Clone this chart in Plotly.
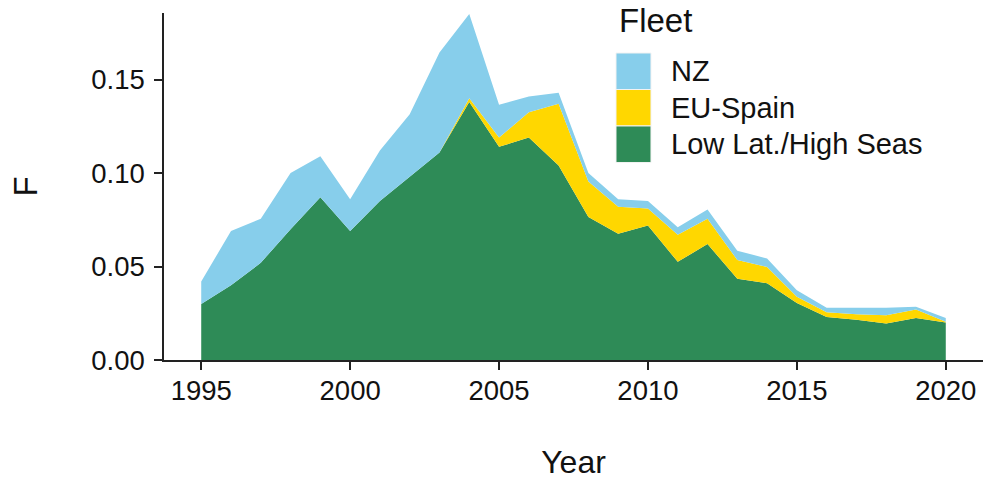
import plotly.graph_objects as go

# Fishing mortality (F) by fleet, 1995-2020
years = list(range(1995, 2021))

low_lat_high_seas = [0.030, 0.040, 0.052, 0.070, 0.087, 0.069, 0.085, 0.098, 0.111, 0.138,
                     0.114, 0.119, 0.104, 0.0765, 0.0675, 0.072, 0.0525, 0.062, 0.0435, 0.041,
                     0.0305, 0.023, 0.0215, 0.0195, 0.0225, 0.020]
eu_spain = [0.0, 0.0, 0.0, 0.0, 0.0, 0.0, 0.0, 0.0, 0.0, 0.002,
            0.005, 0.0135, 0.033, 0.019, 0.0145, 0.009, 0.0145, 0.0135, 0.010, 0.0088,
            0.0033, 0.0025, 0.003, 0.0045, 0.0045, 0.0005]
nz = [0.012, 0.029, 0.0235, 0.030, 0.022, 0.017, 0.027, 0.0335, 0.0535, 0.045,
      0.0175, 0.0085, 0.006, 0.0045, 0.004, 0.004, 0.004, 0.005, 0.005, 0.0045,
      0.0035, 0.0025, 0.0035, 0.004, 0.0015, 0.002]

fleets = ["Low Lat./High Seas", "EU-Spain", "NZ"]
series = [low_lat_high_seas, eu_spain, nz]
colors = ["#2E8B57", "#FFD700", "#87CEEB"]

x_ticks = [1995, 2000, 2005, 2010, 2015, 2020]
y_ticks = [0.00, 0.05, 0.10, 0.15]

FONT = "Liberation Sans, Arial, Helvetica, sans-serif"

fig = go.Figure()
for name, vals, col in zip(fleets, series, colors):
    fig.add_trace(go.Scatter(
        x=years, y=vals, name=name, mode="lines",
        stackgroup="fleet", line=dict(width=0, color=col),
        fillcolor=col, showlegend=False,
    ))

axis_common = dict(
    showline=True, linecolor="#222222", linewidth=1.5,
    ticks="outside", ticklen=8, tickwidth=1.5, tickcolor="#222222",
    showgrid=False, zeroline=False,
    tickfont=dict(family=FONT, size=27.5, color="#111111"),
)

fig.update_xaxes(
    range=[1993.75, 2021.25], tickvals=x_ticks, ticklabelstandoff=-3,
    title=dict(text="Year", font=dict(family=FONT, size=32, color="#111111"), standoff=46),
    **axis_common,
)
fig.update_yaxes(
    range=[0, 0.1856], tickvals=y_ticks, tickformat=".2f", ticklabelstandoff=4,
    title=dict(text="F", font=dict(family=FONT, size=33, color="#111111"), standoff=44),
    **axis_common,
)

# Legend drawn as swatches and labels in the upper middle of the panel
legend_rows = [("NZ", "#87CEEB", 0.8847, 0.7795),
               ("EU-Spain", "#FFD700", 0.7795, 0.6744),
               ("Low Lat./High Seas", "#2E8B57", 0.6744, 0.5692)]
for label, col, y_top, y_bot in legend_rows:
    fig.add_shape(type="rect", xref="paper", yref="paper",
                  x0=0.5519, x1=0.5946, y0=y_bot, y1=y_top,
                  fillcolor=col, line=dict(color="#f2f2f2", width=1))
    fig.add_annotation(xref="paper", yref="paper", x=0.6166, y=(y_top + y_bot) / 2,
                       text=label, showarrow=False, xanchor="left", yanchor="middle",
                       font=dict(family=FONT, size=29, color="#111111"))
fig.add_annotation(xref="paper", yref="paper", x=0.5531, y=0.9798, text="Fleet",
                   showarrow=False, xanchor="left", yanchor="middle",
                   font=dict(family=FONT, size=33, color="#111111"))

fig.update_layout(
    width=984, height=484,
    margin=dict(l=164, r=1, t=13, b=124),
    paper_bgcolor="white", plot_bgcolor="white",
    font=dict(family=FONT),
)

fig.write_html("out.html")
